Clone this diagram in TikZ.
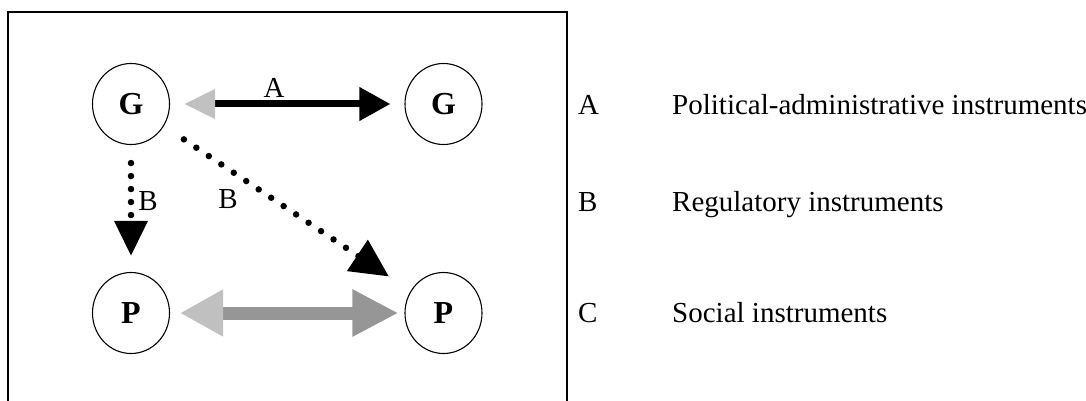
\documentclass[tikz,border=0pt]{standalone}
\usepackage{fontspec}
\setmainfont{Liberation Serif}
\usetikzlibrary{arrows.meta,shapes.geometric}
\definecolor{lgray}{HTML}{C0C0C0}
\definecolor{mgray}{HTML}{969696}
\begin{document}
\begin{tikzpicture}[x=1pt,y=-1pt,
  actor/.style={draw,ellipse,line width=1.1pt,minimum width=77pt,minimum height=81pt,inner sep=0pt,font=\fontsize{32}{34}\selectfont\bfseries},
  lbl/.style={font=\fontsize{29}{31}\selectfont,inner sep=0pt},
  dots/.style={line width=6.5pt,line cap=round,dash pattern=on 0pt off 15pt}]
\useasboundingbox (0,0) rectangle (1086,401);
\draw[line width=1.6pt] (8,403) -- (8,12) -- (567,12) -- (567,403);
\node[actor] (G1) at (131,104) {G};
\node[actor] (G2) at (443.5,104) {G};
\node[actor] (P1) at (131,313) {P};
\node[actor] (P2) at (443.5,313) {P};
% A arrow
\draw[line width=7pt,{Triangle[length=31pt,width=28pt,color=lgray]}-{Triangle[length=31pt,width=32pt]},shorten <=14pt,shorten >=14pt] (G1) -- (G2);
% C arrow
\draw[line width=13pt,mgray,{Triangle[length=43pt,width=44pt,color=lgray]}-{Triangle[length=46pt,width=44pt]},shorten <=10pt,shorten >=6pt] (P1) -- (P2);
% B arrows
\draw[dots,dash pattern=on 0pt off 13pt,-{Triangle[length=35pt,width=32pt]},shorten <=18pt,shorten >=16pt] (G1) -- (P1);
\draw[dots,-{Triangle[length=38pt,width=36pt]},shorten <=24pt,shorten >=26pt] (G1) -- (P2);
% labels
\node[lbl] (la) at (274,88) {A};
\node[lbl] (lb1) at (148,201) {B};
\node[lbl] (lb2) at (228,199) {B};
% legend
\node[lbl,anchor=base west] (ka) at (578,114) {A};
\node[lbl,anchor=base west] (ta) at (672,114) {Political-administrative instruments};
\node[lbl,anchor=base west] (kb) at (578,211) {B};
\node[lbl,anchor=base west] (tb) at (672,211) {Regulatory instruments};
\node[lbl,anchor=base west] (kc) at (578,322) {C};
\node[lbl,anchor=base west] (tc) at (672,322) {Social instruments};
\end{tikzpicture}
\end{document}
